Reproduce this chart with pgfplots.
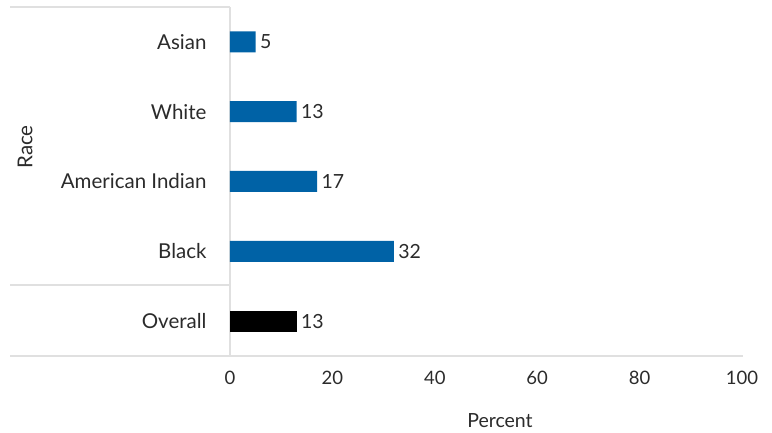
\documentclass[border=0pt]{standalone}
\usepackage{pgfplots}
\pgfplotsset{compat=1.18}
\usepackage{fontspec}
\setmainfont{Lato}
\definecolor{barblue}{HTML}{0062A6}
\definecolor{txt}{HTML}{2B2B2B}
\definecolor{gridc}{HTML}{E0E0E0}
\begin{document}
\begin{tikzpicture}[x=1pt,y=1pt]
\useasboundingbox (0,0) rectangle (772,433);
\draw[gridc, line width=1.5pt] (10,426) -- (230,426);
\draw[gridc, line width=1.5pt] (10,148) -- (230,148);
\draw[gridc, line width=1.5pt] (10,77) -- (743,77);
\draw[gridc, line width=1.5pt] (230,77) -- (230,426);
\begin{axis}[at={(230pt,77pt)}, anchor=south west, scale only axis,
  width=512pt, height=349pt,
  xmin=0, xmax=100, ymin=-0.5, ymax=4.5,
  xbar, bar width=21pt, bar shift=0pt,
  axis line style={draw=none}, major tick length=0pt,
  xtick={0,20,...,100}, ytick={0,...,4},
  yticklabels={Overall,Black,American Indian,White,Asian},
  xticklabel style={font=\fontsize{18.5}{20}\selectfont, text=txt, yshift=-12pt},
  yticklabel style={font=\fontsize{20.5}{22}\selectfont, text=txt, xshift=-20pt},
  /pgf/number format/assume math mode=true,
  nodes near coords,
  nodes near coords style={font=\fontsize{19.5}{20}\selectfont, text=txt, anchor=west, xshift=1pt},
  clip=false,
]
\addplot[fill=barblue, draw=none] coordinates {(32,1) (17,2) (13,3) (5,4)};
\addplot[fill=black, draw=none] coordinates {(13,0)};
\end{axis}
\node[font=\fontsize{19.5}{20}\selectfont, text=txt] at (500,12) {Percent};
\node[font=\fontsize{20.5}{22}\selectfont, text=txt, rotate=90] at (25,286) {Race};
\end{tikzpicture}
\end{document}
